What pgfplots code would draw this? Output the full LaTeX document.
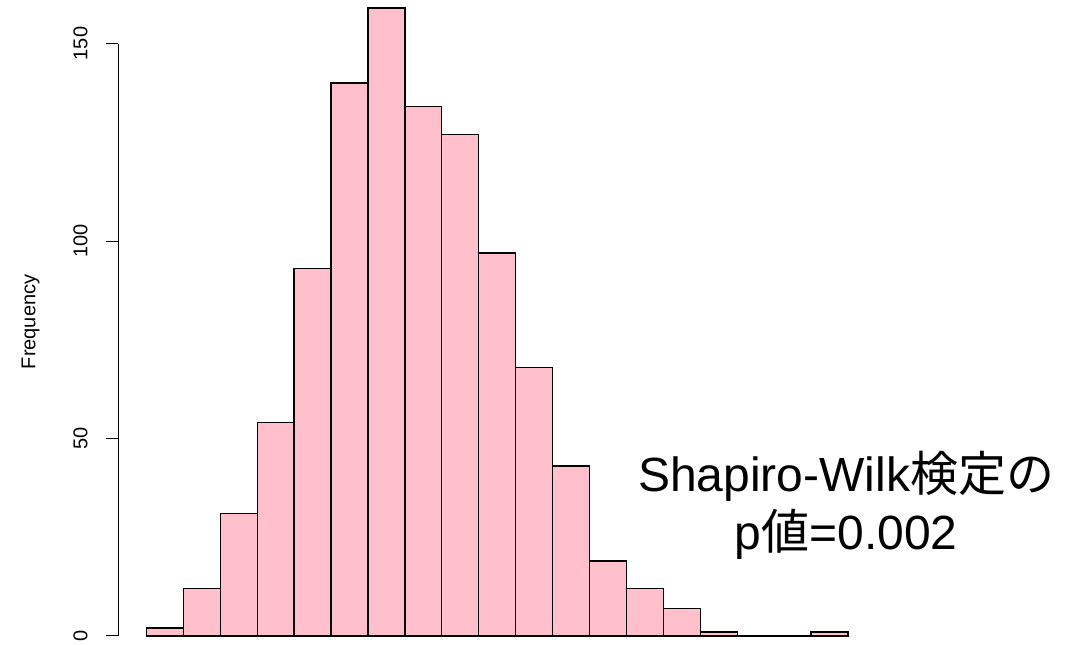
\documentclass[border=0pt]{standalone}
\usepackage{pgfplots}
\pgfplotsset{compat=1.18}
\usepackage{pgfplotstable}
\usepackage{fontspec}
\setmainfont{Liberation Sans}
\newfontfamily\cjk{Noto Sans CJK JP}

\definecolor{rpink}{HTML}{FFC0CB}

% histogram counts per bin (left bin edge, count); last row closes the final bin
\pgfplotstableread{
edge count
0  2
1  12
2  31
3  54
4  93
5  140
6  159
7  134
8  127
9  97
10 68
11 43
12 19
13 12
14 7
15 1
16 0
17 0
18 1
19 1
}\histdata

\begin{document}
\begin{tikzpicture}
\useasboundingbox (0pt,0pt) rectangle (810.75pt,483pt);
\begin{axis}[
  at={(88.8pt,-12.83pt)}, anchor=south west,
  scale only axis, width=568.2pt, height=508.7pt,
  xmin=-0.76, xmax=19.76, ymin=-6.36, ymax=165.36,
  clip=false,
  axis x line=none, axis y line=left,
  y axis line style={draw=none},
  ytick={0,50,100,150},
  tick align=outside,
  major tick length=9pt,
  ytick style={black, line width=0.75pt},
  /pgf/number format/assume math mode=true,
  yticklabel style={rotate=90, anchor=base, inner sep=0pt,
    font=\fontsize{15}{18}\selectfont},
  yticklabel shift=14.2pt,
]
\draw[black, line width=0.75pt] (axis cs:-0.76,0) -- (axis cs:-0.76,150);
\addplot[ybar interval, fill=rpink, draw=black, line width=1pt]
  table[x=edge, y=count] {\histdata};
\node[rotate=90, anchor=base, inner sep=0pt, font=\fontsize{15}{18}\selectfont]
  at (axis cs:-3.006,79.5) {Frequency};
\node[align=center, inner sep=0pt, font=\fontsize{36}{43.5}\selectfont]
  at (axis cs:18.95,33.2) {Shapiro-Wilk{\cjk 検定の}\\p{\cjk 値}=0.002};
\end{axis}
\end{tikzpicture}
\end{document}
